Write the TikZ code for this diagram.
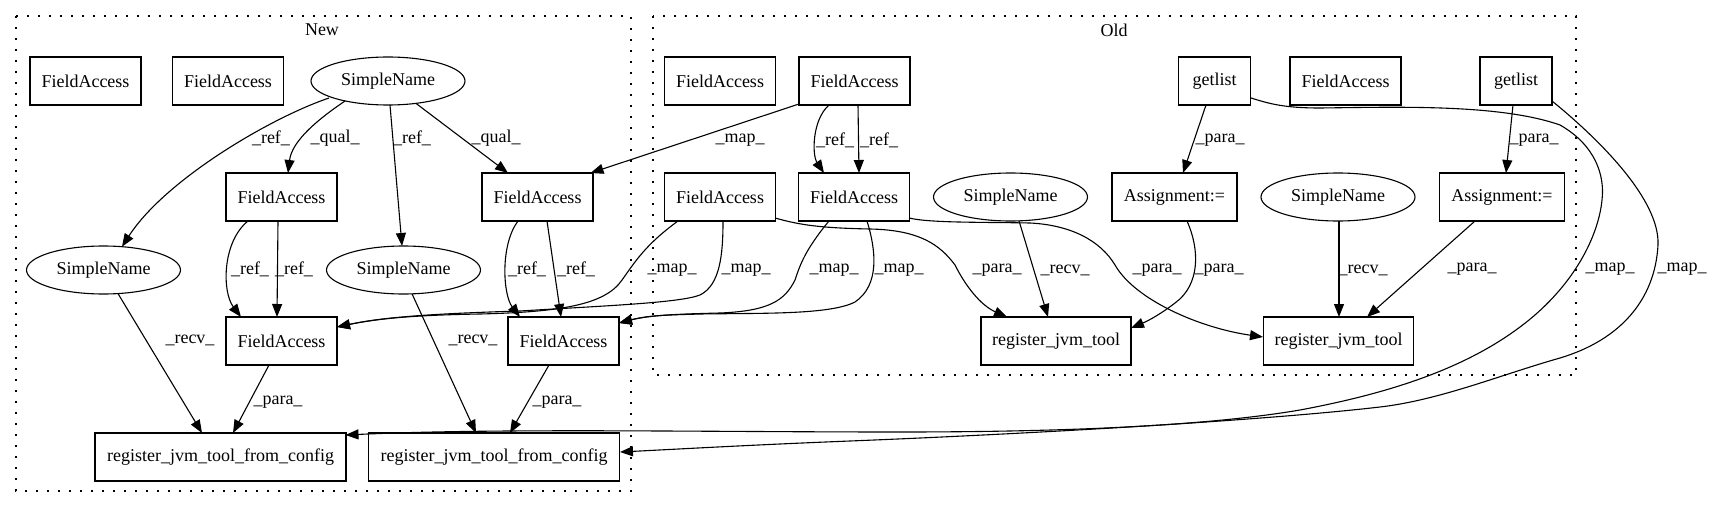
\documentclass[tikz,border=0pt]{standalone}
\usepackage{fontspec}
\setmainfont{Liberation Serif}
\usetikzlibrary{arrows.meta,shapes.geometric,calc}
\begin{document}
\begin{tikzpicture}[x=0.5pt,y=-0.5pt,
 every node/.style={font=\fontsize{9}{10}\selectfont},
 box/.style={draw, line width=0.55pt, rectangle, minimum height=24pt, inner sep=0pt},
 fa/.style={box, minimum width=55.5pt},
 gl/.style={box, minimum width=36pt},
 asg/.style={box, minimum width=62.5pt},
 rjt/.style={box, minimum width=75pt},
 rjtfc/.style={box, minimum width=125.5pt},
 sn/.style={draw, line width=0.55pt, ellipse, minimum width=77pt, minimum height=24pt, inner sep=0pt},
 e/.style={line width=0.55pt, -{Triangle[length=6.5pt,width=5pt]}},
 lbl/.style={inner sep=0pt},
 cluster/.style={draw, line width=0.6pt, dash pattern=on 1pt off 4.5pt}
]
\useasboundingbox (0,0) rectangle (1713,508);
% clusters
\draw[cluster] (16,16) rectangle (631,491);
\node[lbl] (tNew) at (322,30) {New};
\draw[cluster] (653,16) rectangle (1576,375);
\node[lbl] (tOld) at (1114,30) {Old};

% New nodes
\node[fa] (nA1) at (85.5,81) {FieldAccess};
\node[fa] (nA2) at (228,81) {FieldAccess};
\node[sn] (nS0) at (388,81) {SimpleName};
\node[fa] (nB1) at (281.5,197) {FieldAccess};
\node[fa] (nB2) at (537.5,197) {FieldAccess};
\node[sn] (nS1) at (103.5,270) {SimpleName};
\node[sn] (nS2) at (403.5,270) {SimpleName};
\node[fa] (nC1) at (281.5,341) {FieldAccess};
\node[fa] (nC2) at (563.5,341) {FieldAccess};
\node[rjtfc] (nR1) at (220.5,457) {register\_jvm\_tool\_from\_config};
\node[rjtfc] (nR2) at (494,457) {register\_jvm\_tool\_from\_config};

% Old nodes
\node[fa] (oA1) at (720,81) {FieldAccess};
\node[fa] (oA2) at (854.5,81) {FieldAccess};
\node[gl] (oG1) at (1214.5,81) {getlist};
\node[fa] (oA3) at (1345.5,81) {FieldAccess};
\node[gl] (oG2) at (1516,81) {getlist};
\node[fa] (oB1) at (720,197) {FieldAccess};
\node[fa] (oB2) at (854,197) {FieldAccess};
\node[sn] (oS1) at (1010.5,197) {SimpleName};
\node[asg] (oAs1) at (1174.5,197) {Assignment:=};
\node[sn] (oS2) at (1338,197) {SimpleName};
\node[asg] (oAs2) at (1502,197) {Assignment:=};
\node[rjt] (oR1) at (1056,341) {register\_jvm\_tool};
\node[rjt] (oR2) at (1338.5,341) {register\_jvm\_tool};

% New edges
\draw[e] ($(nS0)+(-59,17)$) .. controls (270,118) and (165,180) .. ($(nS1)+(18.5,-23.3)$);
\draw[e] ($(nS0)+(-43,20)$) .. controls (320,118) and (292,140) .. ($(nB1)+(6.5,-24)$);
\draw[e] ($(nS0)+(2,24)$) -- ($(nS2)+(-1.5,-24)$);
\draw[e] ($(nS0)+(28,22.4)$) -- ($(nB2)+(-29.5,-24)$);
\draw[e] ($(nB1)+(-33.5,24)$) .. controls (222,242) and (222,292) .. ($(nC1)+(-40.5,-24)$);
\draw[e] ($(nB1)+(-3.5,24)$) -- ($(nC1)+(-4.5,-24)$);
\draw[e] ($(nB2)+(-19.5,24)$) .. controls (500,245) and (503,295) .. ($(nC2)+(-43.5,-24)$);
\draw[e] ($(nB2)+(9.5,24)$) -- ($(nC2)+(-2.5,-24)$);
\draw[e] ($(nS1)+(14.5,23.6)$) -- ($(nR1)+(-18.5,-24)$);
\draw[e] ($(nC1)+(-12.5,24)$) -- ($(nR1)+(12.5,-24)$);
\draw[e] ($(nS2)+(8.5,23.8)$) -- ($(nR2)+(-18,-24)$);
\draw[e] ($(nC2)+(-14.5,24)$) -- ($(nR2)+(16,-24)$);

% map edges Old -> New
\draw[e] ($(oA2)+(-55.5,23)$) -- ($(nB2)+(53,-24)$);
\draw[e] ($(oB1)+(-42,24)$) .. controls (645,245) and (635,262) .. (622,280) .. controls (605,305) and (560,312) .. (480,314) .. controls (420,315) and (380,318) .. ($(nC1)+(55.5,-14)$);
\draw[e] ($(oB1)+(3,24)$) .. controls (723,255) and (720,285) .. (700,295) .. controls (680,303) and (600,306) .. (520,311) .. controls (420,314) and (380,318) .. ($(nC1)+(55.5,-14)$);
\draw[e] ($(oB2)+(-25,24)$) .. controls (805,250) and (800,265) .. (795,280) .. controls (785,300) and (770,311) .. (720,313) .. controls (680,314) and (650,315) .. ($(nC2)+(55.5,-18)$);
\draw[e] ($(oB2)+(13,24)$) .. controls (876,250) and (880,285) .. (855,302) .. controls (830,315) and (760,313) .. (700,314) .. controls (670,315) and (650,315) .. ($(nC2)+(55.5,-18)$);
\draw[e] ($(oG1)+(36.5,17)$) .. controls (1270,104) and (1285,108) .. (1320,108) .. controls (1400,107) and (1500,104) .. (1560,125) .. controls (1595,145) and (1605,175) .. (1602,200) .. controls (1598,240) and (1570,290) .. (1520,327) .. controls (1460,372) and (1380,395) .. (1300,410) .. controls (1200,427) and (1050,432) .. (900,432) .. controls (700,432) and (500,428) .. ($(nR1)+(125,-22)$);
\draw[e] ($(oG2)+(36,20)$) .. controls (1600,140) and (1660,200) .. (1658,245) .. controls (1655,300) and (1620,340) .. (1560,358) .. controls (1500,375) and (1440,400) .. (1380,407) .. controls (1250,422) and (1000,435) .. (850,441) .. controls (750,445) and (680,449) .. ($(nR2)+(126,-5)$);

% Old edges
\draw[e] ($(oA2)+(-25.5,24)$) .. controls (812,120) and (812,155) .. ($(oB2)+(-30,-24)$);
\draw[e] ($(oA2)+(3.5,24)$) -- ($(oB2)+(5,-24)$);
\draw[e] ($(oG1)+(-8.5,24)$) -- ($(oAs1)+(8.5,-24)$);
\draw[e] ($(oG2)+(-3,24)$) -- ($(oAs2)+(4,-24)$);
\draw[e] ($(oB1)+(55,21)$) .. controls (800,225) and (820,228) .. (870,229) .. controls (920,230) and (940,245) .. (955,265) .. controls (965,285) and (980,305) .. ($(oR1)+(-49,-24)$);
\draw[e] ($(oB2)+(55,21)$) .. controls (930,223) and (980,222) .. (1030,223) .. controls (1070,225) and (1100,240) .. (1115,265) .. controls (1135,300) and (1200,328) .. ($(oR2)+(-75.5,-4)$);
\draw[e] ($(oS1)+(8.5,23.8)$) -- ($(oR1)+(-8,-24)$);
\draw[e] ($(oAs1)+(12.5,24)$) .. controls (1200,250) and (1200,285) .. (1175,303) .. controls (1162,313) and (1150,320) .. ($(oR1)+(75,-13)$);
\draw[e] ($(oS2)+(1,24)$) -- ($(oR2)+(0.5,-24)$);
\draw[e] ($(oAs2)+(-27,24)$) -- ($(oR2)+(28.5,-24)$);

% labels
\node[lbl] (l1) at (271,138) {\_ref\_};
\node[lbl] (l2) at (335,138) {\_qual\_};
\node[lbl] (l3) at (412,138) {\_ref\_};
\node[lbl] (l4) at (496,138) {\_qual\_};
\node[lbl] (l5) at (250,269) {\_ref\_};
\node[lbl] (l6) at (294,269) {\_ref\_};
\node[lbl] (l7) at (527,269) {\_ref\_};
\node[lbl] (l8) at (576,269) {\_ref\_};
\node[lbl] (l9) at (190,340) {\_recv\_};
\node[lbl] (l10) at (278,402) {\_para\_};
\node[lbl] (l11) at (473,340) {\_recv\_};
\node[lbl] (l12) at (557,402) {\_para\_};
\node[lbl] (l13) at (740,140) {\_map\_};
\node[lbl] (l14) at (672,270) {\_map\_};
\node[lbl] (l15) at (746,270) {\_map\_};
\node[lbl] (l16) at (834,270) {\_map\_};
\node[lbl] (l17) at (899,270) {\_map\_};
\node[lbl] (l18) at (835,140) {\_ref\_};
\node[lbl] (l19) at (879,140) {\_ref\_};
\node[lbl] (l20) at (1220,140) {\_para\_};
\node[lbl] (l21) at (1534,140) {\_para\_};
\node[lbl] (l22) at (997,270) {\_para\_};
\node[lbl] (l23) at (1065,270) {\_recv\_};
\node[lbl] (l24) at (1157,270) {\_para\_};
\node[lbl] (l25) at (1219,270) {\_para\_};
\node[lbl] (l26) at (1363,270) {\_recv\_};
\node[lbl] (l27) at (1472,269) {\_para\_};
\node[lbl] (l28) at (1610,269) {\_map\_};
\node[lbl] (l29) at (1682,269) {\_map\_};
\end{tikzpicture}
\end{document}
